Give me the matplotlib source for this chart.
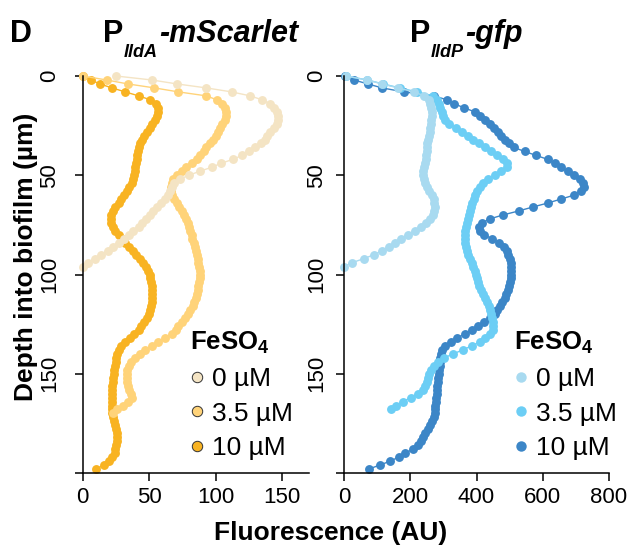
import numpy as np
import matplotlib.pyplot as plt
from matplotlib.lines import Line2D

plt.rcParams['font.family'] = ['Liberation Sans', 'DejaVu Sans']
plt.rcParams['mathtext.fontset'] = 'custom'
plt.rcParams['mathtext.rm'] = 'Liberation Sans'
plt.rcParams['mathtext.bf'] = 'Liberation Sans:bold'

PASO = 2  # um entre planos del perfil

etiquetas = ['0 µM', '3.5 µM', '10 µM']

# P_lldA-mScarlet, fluorescencia (AU) cada 2 um desde la superficie
mscarlet_0 = [25, 52, 71, 93, 112, 126, 135, 141, 144, 146, 147, 147, 146, 144, 141, 139, 137,
              134, 130, 125, 120, 113, 104, 97, 88, 80, 73, 69, 67, 66, 64, 62, 59, 56, 53, 51,
              48, 45, 42, 38, 35, 31, 27, 23, 19, 14, 9, 4, 0]
mscarlet_35 = [0, 18, 34, 54, 72, 93, 101, 105, 107, 108, 108, 107, 105, 103, 102, 100, 98, 96,
               93, 91, 88, 86, 82, 78, 75, 71, 68, 67, 66.5, 66.5, 67.5, 69, 70.7, 72.5, 74.5,
               76.5, 78, 79, 80, 81, 82, 82.5, 83.5, 84.5, 85.5, 86, 86.5, 87, 87.5, 88, 88, 88,
               87.5, 87, 87, 86, 85, 84, 83, 81, 79, 77, 74.5, 72, 70, 67, 62, 57, 52, 47, 43,
               39, 36, 34.5, 33.5, 33, 33, 33.5, 34, 35, 36, 37, 34, 30, 26, 23]
mscarlet_10 = [0, 6, 13, 22, 32, 42, 51, 55, 56.5, 57, 56, 54.5, 52.5, 51, 48.5, 46, 44.5, 43,
               42, 41.3, 40.8, 40.5, 40, 39.5, 39, 38.5, 38, 37, 35, 33, 31, 29, 27, 24.5, 22.5,
               21.5, 21, 21.5, 23, 24.5, 27, 30, 32, 35, 37.5, 40, 43, 45.5, 47.5, 49, 50.3, 51,
               51.5, 52, 52, 52, 52, 52, 51.5, 51, 50, 48.5, 46.5, 44, 42, 38.5, 35.5, 32, 29,
               27.5, 26, 25.3, 24.8, 24.3, 23.8, 23.3, 23, 22.7, 22.4, 22.2, 22, 22, 22, 22, 22,
               22.3, 23, 23.8, 24.5, 25.3, 26, 26, 25.7, 25.2, 24.6, 24, 22, 19.5, 16, 10]

# P_lldP-gfp
gfp_0 = [5, 70, 115, 163, 210, 243, 256, 261, 264, 265, 265, 264, 263, 261, 259, 256, 254, 252,
         251, 250, 249, 247, 244, 241, 239, 239, 241, 245, 250, 258, 266, 271, 273, 274, 273, 268,
         261, 248, 232, 215, 194, 173, 155, 136, 115, 91, 60, 25, 0]
gfp_35 = [5, 70, 118, 168, 220, 270, 280, 286, 291, 295, 299, 304, 318, 338, 356, 373, 390, 408,
          425, 443, 462, 480, 492, 492, 475, 455, 435, 420, 410, 402, 396, 391, 387, 384, 381,
          378, 375, 371, 367, 364, 364, 365, 366, 368, 370, 374, 379, 385, 390, 394, 398, 401,
          405, 409, 415, 421, 427, 432, 437, 441, 445, 447, 449, 450, 449, 440, 425, 410, 385,
          358, 330, 302, 284, 271, 263, 258, 254, 250, 245, 239, 222, 202, 178, 158, 143]
gfp_10 = [3, 30, 72, 115, 180, 272, 310, 333, 362, 394, 412, 427, 440, 452, 464, 474, 485, 497,
          513, 545, 580, 615, 638, 655, 675, 695, 712, 722, 724, 715, 695, 655, 615, 570, 527,
          480, 440, 416, 409, 410, 422, 448, 468, 482, 491, 496, 500, 503, 504, 505, 505, 504,
          502, 499, 495, 490, 485, 478, 471, 463, 455, 440, 424, 405, 385, 365, 340, 322, 305,
          297, 293, 291, 290, 289, 288, 286, 284, 283, 282, 281, 280, 279, 278, 276, 275, 274,
          271, 267, 261, 254, 246, 238, 231, 224, 208, 185, 165, 140, 108, 75]

colores_mscarlet = ['#F4E4C4', '#FFD379', '#F8B322']
colores_gfp = ['#A8DAF0', '#6CCEF5', '#3C86C7']


def panel(ax, series, colores, xmax, xticks, pad_y):
    # el de mayor concentracion va debajo
    for vals, c in list(zip(series, colores))[::-1]:
        prof = np.arange(len(vals)) * PASO
        ax.plot(vals, prof, '-o', color=c, lw=1.0, ms=6.4, mec='none', clip_on=False)
    ax.set_xlim(0, xmax)
    ax.set_ylim(200, 0)
    ax.set_xticks(xticks)
    ax.set_yticks([0, 50, 100, 150, 200])
    ax.set_yticklabels(['0', '50', '100', '150', ''])
    for s in ['top', 'right']:
        ax.spines[s].set_visible(False)
    for s in ['left', 'bottom']:
        ax.spines[s].set_linewidth(1.1)
    ax.tick_params(labelsize=16, width=1.1, length=6)
    ax.tick_params(axis='x', pad=4)
    ax.tick_params(axis='y', pad=pad_y)
    for t in ax.get_yticklabels():
        t.set_rotation(90)
        t.set_va('center')


def leyenda(ax, fig, colores, borde, x, y):
    handles = [Line2D([], [], ls='none', marker='o', ms=7.5, mfc=c, mec=borde, mew=0.7)
               for c in colores]
    leg = ax.legend(handles, etiquetas, title=r'FeSO$_{\mathbf{4}}$', loc='upper left',
                    bbox_to_anchor=(x / 632, 1 - y / 550), bbox_transform=fig.transFigure,
                    frameon=False, fontsize=19, handlelength=0.5, handletextpad=0.35,
                    labelspacing=0.4, borderpad=0, borderaxespad=0,
                    title_fontproperties={'weight': 'bold', 'size': 18.5})
    leg._legend_box.align = 'left'


def titulo(fig, x, base, sub, resto):
    t1 = fig.text(x / 632, 1 - 42 / 550, base, fontsize=22, fontweight='bold', va='baseline')
    t2 = plt.annotate(sub, xy=(1, 0), xycoords=t1, xytext=(0.5, -6), textcoords='offset points',
                      fontsize=13, fontweight='bold', style='italic', va='baseline')
    plt.annotate(resto, xy=(1, 0), xycoords=(t2, t1), xytext=(1, 0), textcoords='offset points',
                 fontsize=22, fontweight='bold', style='italic', va='bottom')


fig = plt.figure(figsize=(6.32, 5.5), dpi=100)
ax1 = fig.add_axes([82.7 / 632, 77 / 550, 225.9 / 632, 397 / 550])
ax2 = fig.add_axes([344 / 632, 77 / 550, 265 / 632, 397 / 550])

panel(ax1, [mscarlet_0, mscarlet_35, mscarlet_10], colores_mscarlet, 170, [0, 50, 100, 150], 10)
panel(ax2, [gfp_0, gfp_35, gfp_10], colores_gfp, 800, [0, 200, 400, 600, 800], 6)

leyenda(ax1, fig, colores_mscarlet, '#333333', 190, 330)
leyenda(ax2, fig, colores_gfp, 'none', 514, 330)

fig.text(10 / 632, 1 - 42 / 550, 'D', fontsize=22, fontweight='bold', va='baseline')
titulo(fig, 103, 'P', 'lldA', '-mScarlet')
titulo(fig, 410, 'P', 'lldP', '-gfp')

fig.text(331 / 632, 1 - 540 / 550, 'Fluorescence (AU)', ha='center', va='baseline',
         fontsize=19, fontweight='bold')
fig.text(26 / 632, 1 - 257 / 550, 'Depth into biofilm (µm)', rotation=90, ha='center',
         va='center', fontsize=19, fontweight='bold')

fig.savefig('out.png', dpi=100)
